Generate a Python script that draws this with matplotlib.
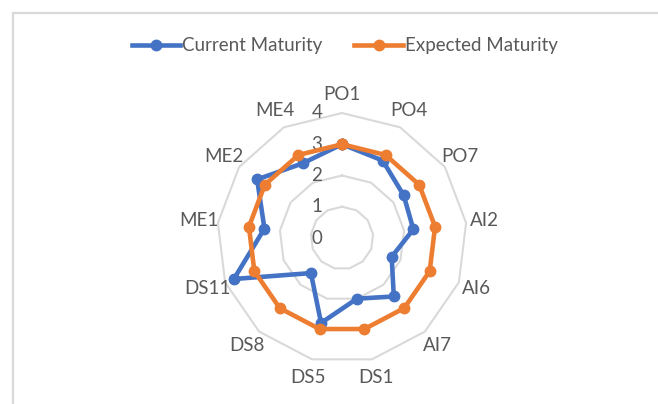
import numpy as np
import matplotlib
matplotlib.use("Agg")
import matplotlib.pyplot as plt
from matplotlib.lines import Line2D
from matplotlib.transforms import offset_copy

categories = ["PO1", "PO4", "PO7", "AI2", "AI6", "AI7", "DS1",
              "DS5", "DS8", "DS11", "ME1", "ME2", "ME4"]
current = [3.0, 2.8, 2.4, 2.3, 1.7, 2.5, 2.0, 2.8, 1.5, 3.7, 2.5, 3.3, 2.7]
expected = [3, 3, 3, 3, 3, 3, 3, 3, 3, 3, 3, 3, 3]
r_ticks = [0, 1, 2, 3, 4]
series_names = ["Current Maturity", "Expected Maturity"]

BLUE = "#4472C4"
ORANGE = "#ED7D31"
GRID = "#D9D9D9"
TEXT = "#595959"
FONT = "Lato"

plt.rcParams["font.family"] = [FONT, "DejaVu Sans"]

W, H = 658, 404
fig = plt.figure(figsize=(W / 100, H / 100), dpi=100)
fig.patch.set_facecolor("white")

cx, cy, R = 342, 238, 125
ax = fig.add_axes([(cx - R) / W, (H - cy - R) / H, 2 * R / W, 2 * R / H],
                  projection="polar")
ax.set_theta_zero_location("N")
ax.set_theta_direction(-1)
ax.set_ylim(0, max(r_ticks))
ax.grid(False)
ax.set_xticks([])
ax.set_yticks([])
ax.spines["polar"].set_visible(False)
ax.patch.set_alpha(0)

n = len(categories)
angles = np.linspace(0, 2 * np.pi, n, endpoint=False)
closed = np.concatenate([angles, angles[:1]])

# polygon gridlines
for r in r_ticks[1:]:
    ax.plot(closed, [r] * (n + 1), color=GRID, lw=1.5, zorder=1,
            clip_on=False)

def close(v):
    return list(v) + [v[0]]

l1, = ax.plot(closed, close(current), color=BLUE, lw=3.3, marker="o",
              ms=7.5, label=series_names[0], zorder=3, clip_on=False)
l2, = ax.plot(closed, close(expected), color=ORANGE, lw=3.3, marker="o",
              ms=7.5, label=series_names[1], zorder=4, clip_on=False)

# category labels
for a, lab in zip(angles, categories):
    ax.text(a, 4.6, lab, ha="center", va="center", fontsize=13.5,
            color=TEXT)

# radial value labels
tr = offset_copy(ax.transData, fig=fig, x=-25, y=0, units="dots")
for r in r_ticks:
    ax.text(0, r, str(r), transform=tr, ha="center", va="center",
            fontsize=13.5, color=TEXT)

fig.legend(handles=[l1, l2], loc="center", bbox_to_anchor=(0.524, 1 - 46 / H),
           ncol=2, frameon=False, fontsize=13.5, handlelength=2.6,
           handletextpad=0.1, columnspacing=1.7, labelcolor=TEXT)

# chart border (partially visible)
fig.add_artist(Line2D([13 / W, 1], [1 - 13 / H, 1 - 13 / H],
                      transform=fig.transFigure, color=GRID, lw=1.6))
fig.add_artist(Line2D([13 / W, 13 / W], [0, 1 - 13 / H],
                      transform=fig.transFigure, color=GRID, lw=1.6))

fig.savefig("out.png", dpi=100, facecolor="white")
